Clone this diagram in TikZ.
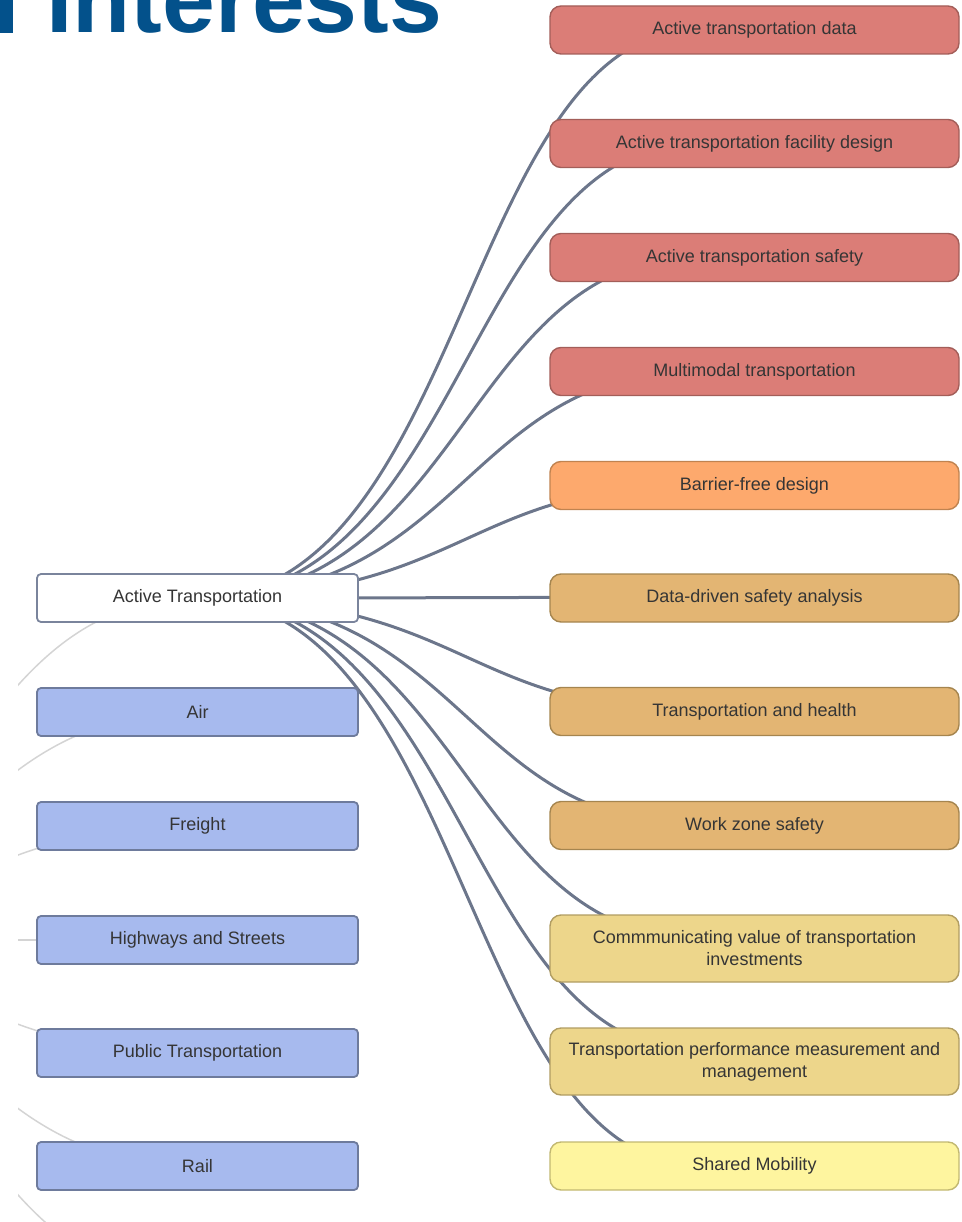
\documentclass[tikz,border=0pt]{standalone}
\usepackage{fontspec}
\setmainfont{Liberation Sans}
\usetikzlibrary{calc,backgrounds}
\definecolor{titleblue}{HTML}{03518B}
\definecolor{txt}{HTML}{353535}
\definecolor{linkc}{HTML}{6C768B}
\definecolor{arcc}{HTML}{D4D4D4}
\definecolor{redf}{HTML}{DB7D77}
\definecolor{redd}{HTML}{A35E59}
\definecolor{orgf}{HTML}{FDA96D}
\definecolor{orgd}{HTML}{C08350}
\definecolor{tanf}{HTML}{E3B573}
\definecolor{tand}{HTML}{A5854F}
\definecolor{ltnf}{HTML}{EDD68B}
\definecolor{ltnd}{HTML}{B19D62}
\definecolor{ylwf}{HTML}{FEF59F}
\definecolor{ylwd}{HTML}{C2B871}
\definecolor{bluf}{HTML}{A7BAEE}
\definecolor{blud}{HTML}{6E7B9C}
\definecolor{atd}{HTML}{7A849C}
\begin{document}
\begin{tikzpicture}[x=1pt,y=-1pt,
  rbox/.style={draw, rounded corners=11pt, line width=1.4pt, minimum width=409pt,
    minimum height=48pt, inner sep=0pt, font=\fontsize{18}{22}\selectfont, text=txt, align=center},
  lbox/.style={draw=blud, fill=bluf, rounded corners=4pt, line width=1.8pt, minimum width=321pt,
    minimum height=48pt, inner sep=0pt, font=\fontsize{18}{22}\selectfont, text=txt, align=center},
  link/.style={draw=linkc, line width=3pt},
  garc/.style={draw=arcc, line width=1.5pt}]
\useasboundingbox (0,0) rectangle (961,1222);

% title (cut off at top)
\fill[titleblue] (0,-40) rectangle (13,33);
\node[anchor=base west, inner sep=0pt, font=\fontsize{95}{100}\selectfont\bfseries, text=titleblue] (title) at (46,33) {Interests};

% left column
\node[lbox, fill=white, draw=atd] (at) at (197.5,598) {Active Transportation};
\node[lbox] (air) at (197.5,712) {Air};
\node[lbox] (frt) at (197.5,826) {Freight};
\node[lbox] (hwy) at (197.5,940) {Highways and Streets};
\node[lbox] (pub) at (197.5,1053) {Public Transportation};
\node[lbox] (rail) at (197.5,1166) {Rail};

% right column
\node[rbox, fill=redf, draw=redd] (r1) at (754.5,30) {Active transportation data};
\node[rbox, fill=redf, draw=redd] (r2) at (754.5,143.5) {Active transportation facility design};
\node[rbox, fill=redf, draw=redd] (r3) at (754.5,257.5) {Active transportation safety};
\node[rbox, fill=redf, draw=redd] (r4) at (754.5,371.5) {Multimodal transportation};
\node[rbox, fill=orgf, draw=orgd] (r5) at (754.5,485.5) {Barrier-free design};
\node[rbox, fill=tanf, draw=tand] (r6) at (754.5,598) {Data-driven safety analysis};
\node[rbox, fill=tanf, draw=tand] (r7) at (754.5,711.5) {Transportation and health};
\node[rbox, fill=tanf, draw=tand] (r8) at (754.5,825.5) {Work zone safety};
\node[rbox, fill=ltnf, draw=ltnd, minimum height=67pt] (r9) at (754.5,948.5) {Commmunicating value of transportation\\investments};
\node[rbox, fill=ltnf, draw=ltnd, minimum height=67pt] (r10) at (754.5,1061.5) {Transportation performance measurement and\\management};
\node[rbox, fill=ylwf, draw=ylwd] (r11) at (754.5,1166) {Shared Mobility};

\begin{scope}[on background layer]
  % links from Active Transportation
  \foreach \n in {r1,r2,r3,r4,r5,r6,r7,r8,r9,r10,r11}{
    \path ($(\n.north west)+(150,24)$) coordinate (T\n);
    \draw[link] (at.center) .. controls ($(at.center)+(268,0)$) and ($(T\n)+(-235,0)$) .. (T\n);
  }
  % faint links from off-picture parent
  \begin{scope}
    \clip (18,0) rectangle (961,1222);
    \coordinate (root) at (-291,940);
    \coordinate (lx) at (197.5,1282);
    \foreach \n in {at,air,frt,hwy,pub,rail,lx}{
      \draw[garc] (root) .. controls ($(root)+(244,0)$) and ($(\n.center)+(-244,0)$) .. (\n.center);
    }
  \end{scope}
\end{scope}
\end{tikzpicture}
\end{document}
